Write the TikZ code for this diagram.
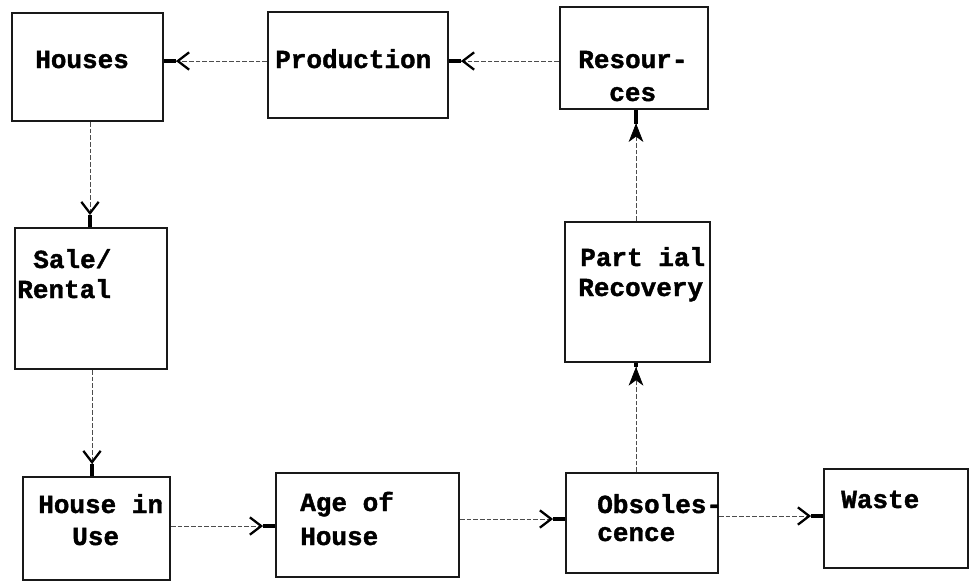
\documentclass[tikz,border=0pt]{standalone}
\usepackage{fontspec}
\newfontfamily\tw{Liberation Mono}[BoldFeatures={FakeBold=1.5}]
\usetikzlibrary{fit,arrows.meta}
\begin{document}
\begin{tikzpicture}[x=0.75pt,y=-0.75pt,
  box/.style={draw=black!90,line width=1.4pt,inner sep=0pt,rectangle},
  lbl/.style={anchor=base west,inner sep=0pt,font=\tw\bfseries\fontsize{19.5pt}{22pt}\selectfont},
  conn/.style={draw=black!70,line width=0.55pt,dash pattern=on 3.5pt off 1.5pt},
  ytip/.style={-{Straight Barb[length=8.5pt,width=13pt,line width=1.7pt,color=black]Rectangle[length=9pt,width=2.6pt,color=black]}},
  uptip/.style={-{Stealth[length=14pt,width=11pt,inset=4pt,color=black]Rectangle[length=#1,width=2.6pt,color=black]}},
  uptip/.default=3pt]
\useasboundingbox (0,0) rectangle (971,583);
% boxes
\node[box,fit={(12,13) (163,121)}] (houses) {};
\node[box,fit={(268,12) (448,118)}] (prod) {};
\node[box,fit={(560,7) (708,109)}] (res) {};
\node[box,fit={(15,228) (167,369)}] (sale) {};
\node[box,fit={(565,222) (710,362)}] (part) {};
\node[box,fit={(23,477) (170,580)}] (use) {};
\node[box,fit={(276,473) (459,577)}] (age) {};
\node[box,fit={(566,473) (718,573)}] (obs) {};
\node[box,fit={(824,469) (968,568)}] (waste) {};
% labels
\node[lbl] (t1) at (35,68) {Houses};
\node[lbl] (t2) at (275,68) {Production};
\node[lbl] (t3a) at (578,68) {Resour-};
\node[lbl] (t3b) at (609,101) {ces};
\node[lbl] (t4a) at (33,268) {Sale/};
\node[lbl] (t4b) at (17,298) {Rental};
\node[lbl] (t5a) at (580,266) {Part ial};
\node[lbl] (t5b) at (578,296) {Recovery};
\node[lbl] (t6a) at (38,513) {House in};
\node[lbl] (t6b) at (72,545) {Use};
\node[lbl] (t7a) at (300,511) {Age of};
\node[lbl] (t7b) at (300,545) {House};
\node[lbl] (t8a) at (597,513) {Obsoles-};
\node[lbl] (t8b) at (597,541) {cence};
\node[lbl] (t9) at (841,508) {Waste};
% helper coordinates
\coordinate (r1) at (0,61);
\coordinate (c1) at (90,0);
\coordinate (c2) at (92,0);
\coordinate (c3) at (636,0);
\coordinate (r2) at (0,526);
\coordinate (r3) at (0,519);
\coordinate (r4) at (0,516);
% connectors
\draw[conn,ytip] (prod.west |- r1) -- (houses.east |- r1);
\draw[conn,ytip] (res.west |- r1) -- (prod.east |- r1);
\draw[conn,uptip=10pt] (c3 |- part.north) -- (c3 |- res.south);
\draw[conn,uptip] (c3 |- obs.north) -- (c3 |- part.south);
\draw[conn,ytip] (c1 |- houses.south) -- (c1 |- sale.north);
\draw[conn,ytip] (c2 |- sale.south) -- (c2 |- use.north);
\draw[conn,ytip] (use.east |- r2) -- (age.west |- r2);
\draw[conn,ytip] (age.east |- r3) -- (obs.west |- r3);
\draw[conn,ytip] (obs.east |- r4) -- (waste.west |- r4);
\end{tikzpicture}
\end{document}
